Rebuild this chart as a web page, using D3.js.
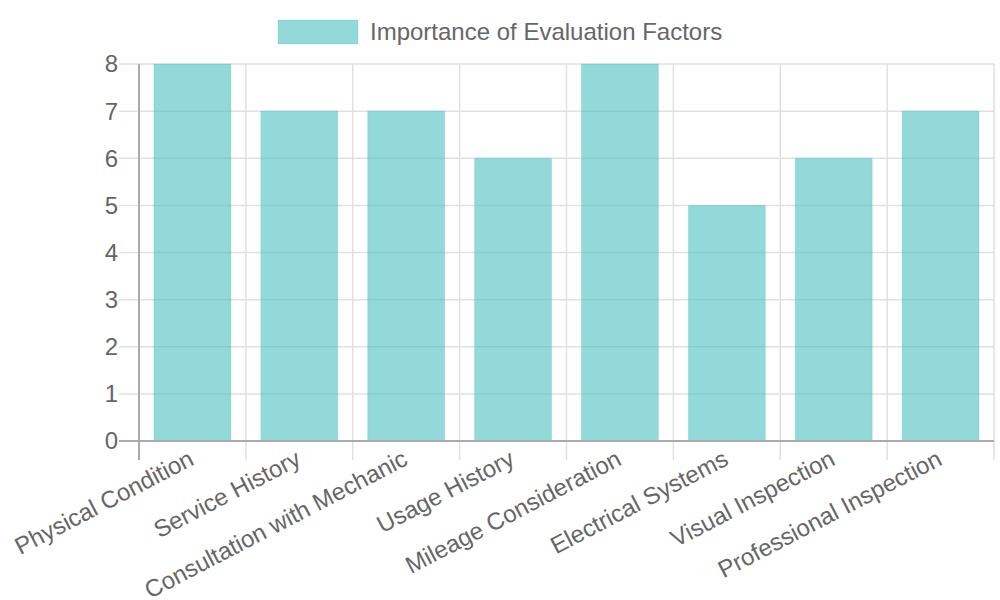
<!DOCTYPE html>
<html><head><meta charset="utf-8">
<script src="https://cdn.jsdelivr.net/npm/d3@7"></script>
<style>body{margin:0;background:#fff}svg{display:block}</style>
</head><body>
<svg id="c" width="1000" height="600"></svg>
<script>
const categories = ["Physical Condition","Service History","Consultation with Mechanic","Usage History","Mileage Consideration","Electrical Systems","Visual Inspection","Professional Inspection"];
const values = [8,7,7,6,8,5,6,7];
const yTicks = [0,1,2,3,4,5,6,7,8];
const seriesName = "Importance of Evaluation Factors";

(function(){
const svg = d3.select("#c");
const font = "'Liberation Sans', Arial, sans-serif";
const pL = 139, pR = 994, pT = 64, pB = 441;
const x = d3.scaleBand().domain(categories).range([pL, pR]).paddingInner(0).paddingOuter(0);
const y = d3.scaleLinear().domain([0, 8]).range([pB, pT]);

svg.append("g").selectAll("line").data(yTicks).join("line")
  .attr("x1", pL - 20).attr("x2", pR).attr("y1", d => y(d)).attr("y2", d => y(d))
  .attr("stroke", d => d === 0 ? "#aaa" : "#e1e1e1").attr("stroke-width", d=> d===0?2:1.5);
const edges = categories.map(c => x(c)).concat([pR]);
svg.append("g").selectAll("line").data(edges).join("line")
  .attr("x1", d => d).attr("x2", d => d).attr("y1", pT).attr("y2", pB + 19)
  .attr("stroke", (d,i) => i === 0 ? "#aaa" : "#e1e1e1").attr("stroke-width", (d,i)=> i===0?2:1.5);

const bw = x.bandwidth() * 0.72;
svg.append("g").selectAll("rect").data(values).join("rect")
  .attr("x", (d,i) => x(categories[i]) + (x.bandwidth() - bw) / 2)
  .attr("width", bw)
  .attr("y", d => y(d))
  .attr("height", d => pB - y(d))
  .attr("fill", "rgba(75,192,192,0.6)")
  .attr("stroke", "rgba(75,192,192,0.25)").attr("stroke-width", 1);

svg.append("line").attr("x1", pL - 20).attr("x2", pR).attr("y1", pB).attr("y2", pB)
  .attr("stroke", "#aaa").attr("stroke-width", 2);

svg.append("g").selectAll("text").data(yTicks).join("text")
  .attr("x", 118).attr("y", d => y(d)).attr("dy", "0.35em")
  .attr("text-anchor", "end").attr("font-family", font).attr("font-size", 24).attr("fill", "#666")
  .text(d => d);

svg.append("g").selectAll("text").data(categories).join("text")
  .attr("transform", c => `translate(${x(c) + x.bandwidth()/2 + 3},${pB + 23}) rotate(-27.5)`)
  .attr("text-anchor", "end").attr("font-family", font).attr("font-size", 24).attr("fill", "#666")
  .text(c => c);

svg.append("rect").attr("x", 278).attr("y", 20).attr("width", 80).attr("height", 24)
  .attr("fill", "rgba(75,192,192,0.6)").attr("stroke", "rgba(75,192,192,0.25)");
svg.append("text").attr("x", 370).attr("y", 32).attr("dy", "0.35em")
  .attr("font-family", font).attr("font-size", 24).attr("fill", "#666").text(seriesName);
})();
</script>
</body></html>
